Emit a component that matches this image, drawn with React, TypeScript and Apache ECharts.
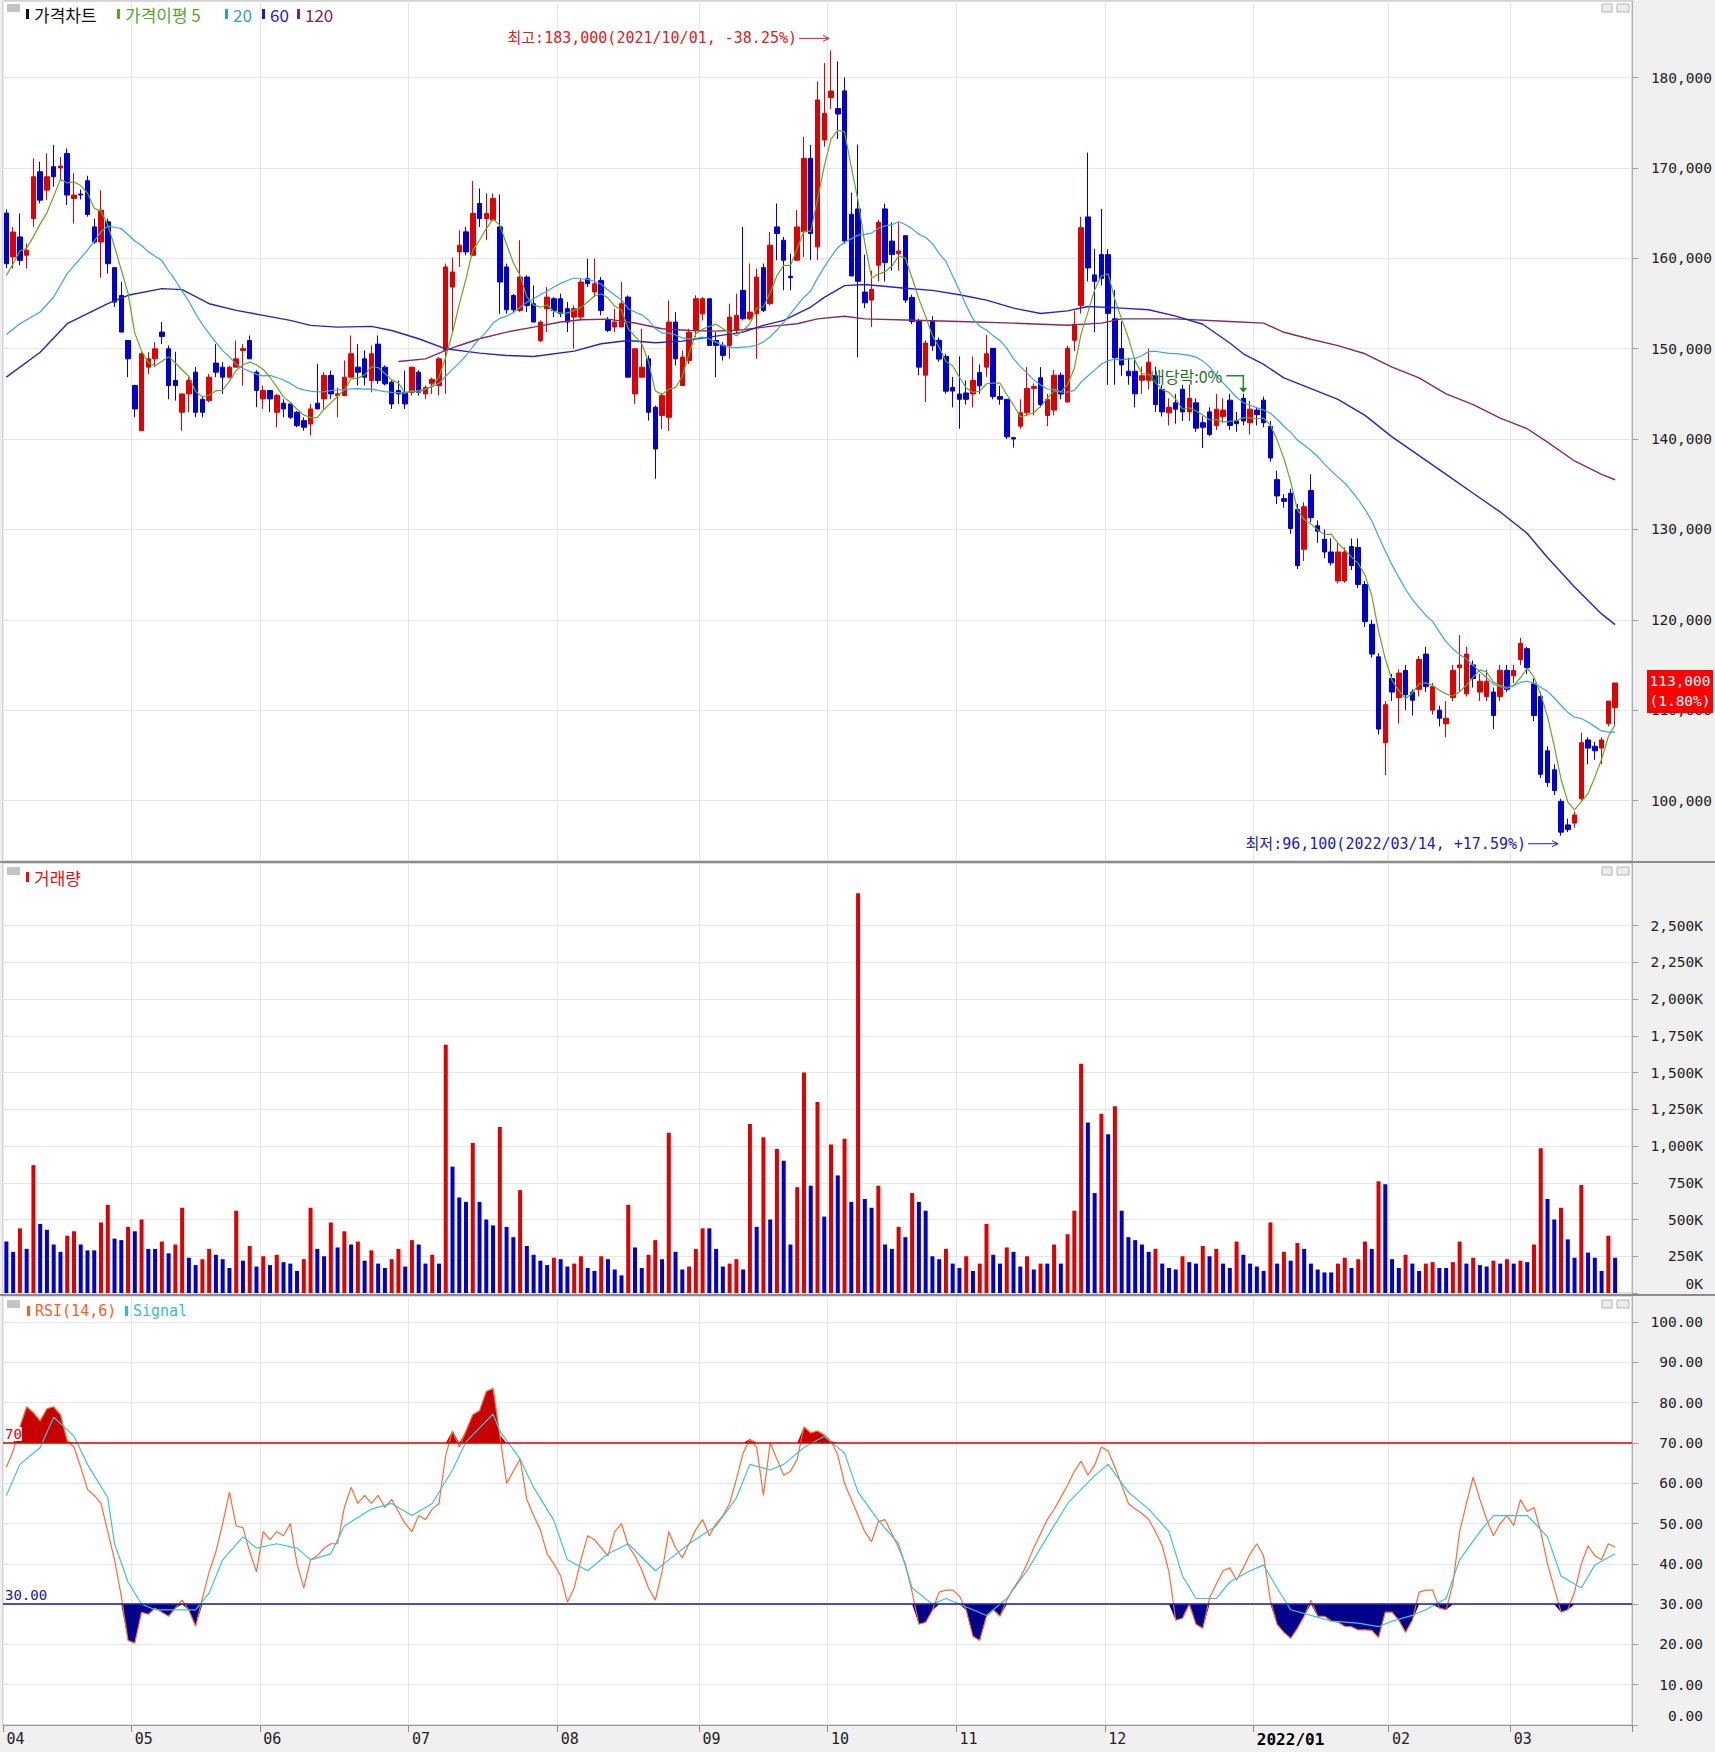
import React, { useEffect, useRef } from 'react';
import * as echarts from 'echarts';

// ---------- categories ----------
const monthLabels = ['04', '05', '06', '07', '08', '09', '10', '11', '12', '2022/01', '02', '03'];
const monthBarCounts = [19, 19, 22, 22, 21, 19, 19, 22, 22, 20, 18, 16];

// ---------- OHLC ----------
const open = [
  165000,160150,162360,160330,164400,169570,167540,170130,170000,171600,166620,167100,168580,163470,161800,164030,158960,155880,150900,
  145920,140920,147950,148870,151830,149980,146480,142960,144990,147400,144400,144250,148400,147950,146840,147950,149800,150900,147400,
  144440,145360,142960,143960,143880,142960,142030,141660,143960,144440,147030,144800,144810,146840,147950,148870,146470,150500,147950,146290,145360,145170,
  145170,147400,145000,146100,145920,149800,156810,160700,162920,160330,166060,164400,164220,163470,159040,155880,154230,157920,154970,150900,154420,155520,
  155520,154420,153490,153490,157740,156270,157550,153120,152390,152390,155700,144990,146840,148870,143520,142600,142400,152940,145920,148700,152020,
  153860,155520,150900,150350,150350,152020,156450,153300,153860,158960,154970,163470,161990,158000,159780,162920,171050,161260,173090,
  177800,176560,178520,164870,165460,156260,155370,159230,165460,161900,160500,162500,155670,153000,147060,153000,150920,149140,145700,
  144980,145100,144980,147360,147950,150030,144690,144390,140150,141420,142900,145600,146770,142610,143200,147060,144090,150920,154780,164570,158160,160410,
  160400,153300,150000,147500,147500,146500,146500,147000,145500,142900,144000,145500,143000,144000,141800,143000,141500,142500,144300,142000,144500,141800,
  143200,144300,141400,135500,133400,134000,132200,127800,134300,130400,128900,127500,124300,124300,128100,128000,123900,119500,115900,106400,
  113500,111400,114400,112000,112300,116200,110000,110000,108500,111400,114700,111800,115000,112000,111500,112000,111500,114400,
  113800,115600,116800,112900,111500,105500,103400,99900,97300,97500,100200,106700,106000,105800,108500,110300,
];
const high = [
  165400,163450,164950,161630,171050,170680,171600,172530,171200,172160,169400,167600,169130,164400,167540,164400,159000,157370,150950,
  146000,149600,149600,150700,152940,150350,149650,145000,146840,147950,144750,147200,150500,148500,148100,150900,150500,151450,147600,
  145920,145400,145000,144400,143900,143100,142400,143880,148320,147400,147580,145700,148700,151450,150500,149800,150350,151450,148150,146470,146470,147580,
  147950,147600,145920,146800,149060,159410,160100,163100,163470,168540,167730,167170,167170,167060,159410,156060,162000,158110,156990,153120,156810,155700,
  156080,155150,154780,157740,159960,159960,157920,153490,154420,157370,155880,149980,152200,149250,143700,145100,155330,154040,149800,152200,155900,
  155700,155520,151830,150720,154970,156080,163470,159410,158850,159410,162920,166060,162360,160500,165320,173450,172530,179560,181590,
  183000,181780,180000,167250,172580,160410,158630,164270,166050,163980,163980,162500,155960,153300,150920,153590,151210,149440,146880,
  149140,146470,149140,148250,151510,150030,145880,144390,140240,144390,147950,146170,147950,144980,147650,147360,150330,154190,164570,171690,161000,165460,
  161000,156500,153000,149000,149000,148000,150000,148000,146000,144500,145000,146000,146000,144500,142500,143500,145000,144500,145000,143000,145000,144200,
  143500,144700,142000,136500,133900,134500,132800,133000,136100,131000,130000,129000,128500,128000,129000,129000,124300,120000,116300,111000,
  114000,114500,115000,112300,116000,117000,113000,110500,111000,115000,118300,117000,115500,114000,114500,112500,115000,115000,
  115000,118000,117000,113500,112000,106000,104000,100200,98000,98800,107500,107000,106500,107000,111000,113000,
];
const low = [
  158900,158850,159200,158850,163470,166060,166430,167910,168650,165880,163840,166500,164600,161600,157850,158300,154600,151800,146840,
  142400,140920,147200,147950,150500,144400,144250,140920,142960,142400,142400,144070,146840,144990,146700,147950,145900,148870,143520,
  143330,142960,141300,142400,142200,141300,140920,140370,143300,143330,144440,142400,144800,146840,145920,145920,145170,146100,145920,143330,143880,143330,
  144800,144800,144440,144990,144800,144990,151830,159040,160330,160220,163470,162000,164220,153860,153860,154040,154040,154040,152940,150700,151830,153490,
  153490,151830,150000,153120,156810,155700,153680,151830,151830,152390,146840,143880,146840,142030,135600,141100,140900,148130,145920,148300,151270,
  153120,150350,146840,148680,148870,151650,153120,153120,148870,154040,154780,159780,156450,156450,159780,160150,159780,159780,172350,
  176500,173180,161600,158040,149020,154480,152400,157450,157450,158630,158630,155070,152700,147060,144090,149740,148540,145000,143500,
  141130,143800,143500,145000,146880,144390,143800,140000,139050,141130,142610,142610,143500,141420,142610,144390,144090,149740,153880,157450,151810,157000,
  146000,146000,147000,146000,143500,145000,145500,143000,142500,141500,141700,142000,142000,140800,139000,140300,141000,141800,141000,140800,141500,140500,
  141500,141300,137500,132800,132400,129500,125600,126500,130800,128500,126800,126000,124000,124100,125500,123500,119200,115800,107300,102800,
  111000,108500,110000,109400,111500,112000,109500,108200,107000,111000,112000,111500,112500,111000,111000,107900,111000,112000,
  113000,115000,114000,108800,102500,101500,100600,96100,96500,97000,100000,104000,104500,104000,108200,108200,
];
const close = [
  159400,162900,159770,160890,169020,166430,169020,169020,170200,166990,167000,167000,164840,161800,165320,159400,155150,151830,148870,
  143330,149430,148870,149980,151350,145920,145920,144990,146470,142960,142960,146840,147400,146840,147950,148870,150000,148870,145360,
  145360,144440,144810,143330,142400,141480,141300,143330,143330,147030,144990,145000,146840,149430,147400,146840,149430,146470,146100,143880,144990,143880,
  147950,145170,145700,146600,148870,159040,158480,161440,160700,164950,164400,164950,166620,157370,154300,154300,157920,154780,152940,152940,155700,154230,
  153860,152940,154420,157370,157180,157180,154230,152020,152940,154970,146840,149980,147950,142960,138900,144800,152940,148870,149060,151800,155520,
  155520,150350,150350,149250,153490,153680,153300,154040,157920,154230,161440,162740,159780,157850,163470,171050,162740,177520,176040,
  178500,175960,161900,158040,157450,155070,156560,163980,159520,160410,160800,155370,153000,147950,150620,150330,148840,145290,145300,
  144390,144390,146470,145880,149440,144690,144400,140240,140000,142900,145580,145800,143800,144390,147060,144980,150030,152700,163380,158930,157450,157750,
  153900,149000,148200,147000,145000,147000,148500,143800,143000,143500,143300,143000,144500,141200,141300,140500,143300,143200,141500,141700,142000,143300,
  142700,141800,137900,133700,133100,130100,126000,132500,131300,129800,127500,126300,127500,127500,126000,123900,119800,116200,107900,110600,
  112000,114100,111700,111100,115600,112600,112600,109100,109100,114400,115000,116200,113500,113200,113200,109400,114400,112300,
  114400,117400,114700,109400,102900,102000,101100,96500,96800,98400,106400,105800,105500,106700,111000,113000,
];

// ---------- moving averages ----------
const ma5Head = [158100, 159400, 160800, 161100];
const ma20HeadIdx = [0, 2, 5, 7, 9, 12, 14, 15, 17];
const ma20HeadVal = [151570, 152750, 154050, 155710, 158300, 160890, 162920, 163550, 163290];
const ma60Idx = [0,5,9,15,18,23,26,30,34,38,42,45,49,54,57,61,65,70,74,78,84,88,92,96,100,104,109,112,115,119,121,124,127,133,137,141,145,149,153,157,160,165,169,173,177,181,183,186,189,193,197,201,203,205,209,213,217,221,225,228,232,236,238];
const ma60Val = [146840,149600,152760,154970,155900,156640,156530,154970,154230,153680,153120,152570,152380,152460,152010,151090,149980,149500,149240,149130,149720,150540,150900,150650,150830,151270,151830,152570,153120,154600,155670,156970,157090,156680,156440,155960,155370,154480,153890,154180,154660,154480,154300,153590,152700,150620,149430,148250,146760,145580,144390,142610,141420,140240,138160,136080,134000,131930,129550,126880,123620,120650,119460];
const ma120Idx = [58,62,65,67,70,74,78,82,85,89,93,97,101,105,109,113,117,120,124,127,133,141,149,157,162,165,173,181,186,189,193,197,201,205,209,213,217,221,225,228,232,236,238];
const ma120Val = [148580,148870,149800,150350,151090,151830,152380,152940,153200,153270,152830,152200,152010,151940,152090,152460,152750,153290,153590,153290,153170,153000,152820,152580,152820,153290,153290,153000,152820,151810,151040,150330,149430,147950,146770,144990,143800,142320,141130,139650,137570,136080,135490];

// ---------- volume (thousands of shares) ----------
const volumeK = [
  350,280,440,300,870,470,430,330,280,390,420,330,290,290,480,600,370,360,450,
  420,500,300,300,350,270,330,580,240,190,230,300,260,230,170,560,220,320,180,
  250,190,260,210,200,150,230,580,300,250,480,310,420,330,350,220,290,200,170,230,300,180,
  360,330,200,260,200,1690,860,650,620,1020,620,500,460,1130,450,380,700,320,260,220,190,240,
  230,180,200,250,170,150,250,230,160,120,600,310,170,260,360,230,1090,280,160,180,300,
  440,440,300,180,200,230,160,1150,450,1060,500,980,900,330,720,1500,730,1300,520,
  1010,800,1050,620,2720,640,580,730,330,300,450,380,680,620,560,250,230,300,200,
  170,250,150,200,470,260,200,310,280,180,250,160,200,200,330,200,400,560,1560,1160,680,1220,
  1080,1270,560,380,360,330,280,300,200,170,160,250,210,200,320,250,300,200,170,350,260,200,
  180,150,480,200,280,220,340,300,200,160,140,140,200,240,170,230,350,300,760,740,
  230,170,260,200,150,200,210,170,170,210,350,200,240,190,180,220,200,230,
  200,220,210,330,985,640,500,580,365,240,735,275,240,150,390,240,
];

// ---------- RSI(14,6) ----------
const rsi = [
  64,68,74,79,77.5,75.5,78.5,79,77,70.5,69,64,58.5,57,55,48,41,32,21,
  20.3,28,27.5,29,28,27,29,31,28.5,24.5,31.5,38,43,50,57.8,49.4,49,43,38,
  48,46,48,47,50,40,34,41,42,43.9,45,45,54,59,55,57,55,57,54,56,53,50,
  48,52,51,53.6,55,67,73,69,73,77,78,82.8,83.6,72,60,63,66,56,52,48.5,42.5,40,
  37,30.5,34,41,47,46,44,42,48,50,44.5,42,38.5,34,31,38,48,44,41.5,45,48.5,
  51,47,50,52,55,61,67.5,71,69,57,70,66,62,63,66,74,72.5,73,72,
  70.5,67,60,56,52,48,45.5,50.5,51,47.5,44,40,33,25,25.5,28.5,33,33.5,33.5,
  32,28.5,22,21,27,28.6,27,31,34,36.5,40,44,47.5,51,53.5,56.5,59.5,63,65.5,62,64.5,69,
  68,64,59.5,55,53.6,52.5,51,48,44.5,38,26,26.5,30,25,24,31.5,35,38.3,39,36,39,42.5,
  45,42,31,25,23,21.5,24,27,31,27,27,25.8,25.5,24.5,24.4,23.6,23.6,23.5,21.7,28,
  28,26,23,26,33,33.5,33.5,29,28.6,35,48,55,61.5,56,51,47,50,52,
  49.5,56,53,54,48,40,34,28,28.6,33,40,44.5,42,41,45,44.2,
];
const signalIdx = [0,2,5,7,10,12,15,16,18,20,22,25,28,30,32,35,37,40,43,45,48,50,54,57,60,63,66,68,72,73,76,78,81,83,86,89,92,96,98,101,105,108,110,113,115,118,121,124,126,129,132,134,137,139,143,145,148,151,154,157,161,163,166,169,172,174,176,179,181,184,186,188,190,193,196,200,203,205,208,210,213,215,218,220,223,225,228,230,233,235,238];
const signalVal = [57,64.7,68.9,76.4,71.7,64.7,56.4,45,35.5,30,28.6,28.6,28.6,32.8,41,46.7,43.9,45,43.9,41,42.5,49.4,53.6,55,52,55,63.3,70.3,77.2,73,66,59,50.8,41,38.3,42.5,45,38.3,41,45,49.4,56.4,64.7,63.3,64.7,68.9,71.7,67.5,57.8,50.8,45,34,30,31.4,28.6,27.2,31.4,38.3,46.7,55,61.9,64.7,57.8,53.6,48,37,31.4,31.4,35.5,38.3,39.7,34,28.6,27.2,25.8,25.3,24.4,25.8,27.2,28.6,31.4,41,48,52,52,52,46.7,37,34,39.7,42.5];

// ---------- axis ticks ----------
const priceTicks = [100000,110000,120000,130000,140000,150000,160000,170000,180000];
const volumeTicks = [0,250,500,750,1000,1250,1500,1750,2000,2250,2500];
const rsiTicks = [0,10,20,30,40,50,60,70,80,90,100];

const MONO = "'DejaVu Sans Mono', 'Noto Sans CJK KR', monospace";
const KR = "'Noto Sans CJK KR', 'Noto Sans', sans-serif";
const UP = '#e00000';
const DOWN = '#0000d0';

export default function App() {
  const ref = useRef<HTMLDivElement>(null);

  useEffect(() => {
    if (!ref.current) return;
    const chart = echarts.init(ref.current, null, { renderer: 'svg' });
    const N = close.length;

    const categories: string[] = [];
    const monthStarts = new Set<number>();
    monthLabels.forEach((m, mi) => {
      monthStarts.add(categories.length);
      for (let k = 0; k < monthBarCounts[mi]; k++) categories.push(m + '#' + k);
    });
    categories.push('pad#0', 'pad#1');
    const isStart = (i: number) => monthStarts.has(i);

    const candle = close.map((c, i) => [open[i], c, low[i], high[i]]);
    const ma5 = close.map((_, i) => {
      if (i < 4) return ma5Head[i];
      let s = 0;
      for (let k = i - 4; k <= i; k++) s += close[k];
      return Math.round(s / 5);
    });
    const ma20: any[] = ma20HeadIdx.map((ix, k) => [ix, ma20HeadVal[k]]);
    for (let i = 19; i < N; i++) {
      let s = 0;
      for (let k = i - 19; k <= i; k++) s += close[k];
      ma20.push([i, Math.round(s / 20)]);
    }
    const ma60 = ma60Idx.map((ix, k) => [ix, ma60Val[k]]);
    const ma120 = ma120Idx.map((ix, k) => [ix, ma120Val[k]]);
    // volume bars: red when volume rose versus the previous day, blue when it fell
    const vol = volumeK.map((v, i) => ({ value: v, itemStyle: { color: i > 0 && v > volumeK[i - 1] ? UP : DOWN } }));
    const hiBase = rsi.map(() => 70);
    const hiFill = rsi.map((r) => Math.max(r - 70, 0));
    const loBase = rsi.map((r) => Math.min(r, 30));
    const loFill = rsi.map((r) => 30 - Math.min(r, 30));
    const signal = signalIdx.map((ix, k) => [ix, signalVal[k]]);

    const grids = [
      { left: 3, top: 1, width: 1629, height: 860 },
      { left: 3, top: 863, width: 1629, height: 430 },
      { left: 3, top: 1296, width: 1629, height: 429 },
    ].map((g) => ({ ...g, show: true, backgroundColor: '#ffffff', borderColor: '#b8b8b8', borderWidth: 1 }));

    const xAxis = [0, 1, 2].map((gi) => ({
      type: 'category',
      gridIndex: gi,
      data: categories,
      boundaryGap: true,
      axisLine: { show: gi === 2, lineStyle: { color: '#9a9a9a' } },
      axisTick: { show: gi === 2, interval: isStart, length: 7, lineStyle: { color: '#8a8a8a' } },
      axisLabel: {
        show: gi === 2,
        interval: isStart,
        formatter: (v: string) => {
          const m = v.split('#')[0];
          return m === '2022/01' ? '{b|' + m + '}' : m;
        },
        align: 'left',
        margin: 6,
        color: '#222',
        fontFamily: MONO,
        fontSize: 15,
        rich: { b: { fontFamily: MONO, fontSize: 16, fontWeight: 'bold', color: '#000' } },
      },
      splitLine: { show: true, interval: isStart, lineStyle: { color: '#e6e6e6', width: 1 } },
    }));

    const labelBase = { fontFamily: MONO, fontSize: 14.5, color: '#222', align: 'right' };
    const yAxis = [
      {
        type: 'value', gridIndex: 0, position: 'right', min: 93306, max: 188465, splitNumber: 10, scale: true,
        axisLine: { show: true, lineStyle: { color: '#b0b0b0' } },
        axisTick: { show: true, customValues: priceTicks, length: 6, lineStyle: { color: '#a0a0a0' } },
        axisLabel: {
          ...labelBase, margin: 80, customValues: priceTicks,
          formatter: (v: number) => (v % 10000 === 0 && v >= 100000 && v <= 180000 ? v.toLocaleString('en-US') : ''),
        },
        splitLine: { show: true, lineStyle: { color: '#e6e6e6' } },
      },
      {
        type: 'value', gridIndex: 1, position: 'right', min: 0, max: 2926, interval: 250,
        axisLine: { show: true, lineStyle: { color: '#b0b0b0' } },
        axisTick: { show: true, customValues: volumeTicks, length: 6, lineStyle: { color: '#a0a0a0' } },
        axisLabel: {
          ...labelBase, margin: 71, customValues: volumeTicks,
          formatter: (v: number) => (v > 2500 ? '' : v === 0 ? '{z|0K}' : v.toLocaleString('en-US') + 'K'),
          rich: { z: { fontFamily: MONO, fontSize: 14.5, color: '#222', padding: [0, 0, 18, 0] } },
        },
        splitLine: { show: true, lineStyle: { color: '#e6e6e6' } },
      },
      {
        type: 'value', gridIndex: 2, position: 'right', min: 0, max: 106.5, interval: 10,
        axisLine: { show: true, lineStyle: { color: '#b0b0b0' } },
        axisTick: { show: true, customValues: rsiTicks, length: 6, lineStyle: { color: '#a0a0a0' } },
        axisLabel: {
          ...labelBase, margin: 71, customValues: rsiTicks,
          formatter: (v: number) => (v > 100 ? '' : v === 0 ? '{z|0.00}' : v.toFixed(2)),
          rich: { z: { fontFamily: MONO, fontSize: 14.5, color: '#222', padding: [0, 0, 18, 0] } },
        },
        splitLine: { show: true, lineStyle: { color: '#e6e6e6' } },
      },
    ];

    const line = (name: string, data: any[], color: string, width: number, xi: number, z = 3) => ({
      name, type: 'line', xAxisIndex: xi, yAxisIndex: xi, data, symbol: 'none', connectNulls: true,
      lineStyle: { color, width }, itemStyle: { color }, z, silent: true,
    });

    const series: any[] = [
      {
        name: '가격차트', type: 'candlestick', xAxisIndex: 0, yAxisIndex: 0, data: candle, barWidth: 5,
        itemStyle: { color: UP, color0: DOWN, borderColor: UP, borderColor0: DOWN, borderWidth: 1 }, z: 2,
      },
      line('MA120', ma120, '#8a2a58', 1.4, 0),
      line('MA60', ma60, '#2424cc', 1.4, 0),
      line('MA20', ma20, '#3ea3e6', 1.2, 0),
      line('MA5', ma5, '#62aa22', 1.2, 0),
      { name: '거래량', type: 'bar', xAxisIndex: 1, yAxisIndex: 1, data: vol, barWidth: 4 },
      { type: 'line', xAxisIndex: 2, yAxisIndex: 2, data: hiBase, stack: 'hi', symbol: 'none', lineStyle: { width: 0, opacity: 0 }, silent: true },
      { type: 'line', xAxisIndex: 2, yAxisIndex: 2, data: hiFill, stack: 'hi', symbol: 'none', lineStyle: { width: 0, opacity: 0 }, areaStyle: { color: '#c80000', opacity: 1 }, silent: true },
      { type: 'line', xAxisIndex: 2, yAxisIndex: 2, data: loBase, stack: 'lo', symbol: 'none', lineStyle: { width: 0, opacity: 0 }, silent: true },
      { type: 'line', xAxisIndex: 2, yAxisIndex: 2, data: loFill, stack: 'lo', symbol: 'none', lineStyle: { width: 0, opacity: 0 }, areaStyle: { color: '#00008c', opacity: 1 }, silent: true },
      {
        ...line('RSI', rsi, '#ff6a35', 1.2, 2, 4),
        markLine: {
          silent: true, symbol: 'none', animation: false, label: { show: false },
          data: [
            { yAxis: 70, lineStyle: { color: '#e00000', width: 1.5, type: 'solid' } },
            { yAxis: 30, lineStyle: { color: '#1818a0', width: 1.5, type: 'solid' } },
          ],
        },
      },
      line('Signal', signal, '#3cc3d6', 1.2, 2, 4),
    ];

    chart.setOption({
      animation: false,
      backgroundColor: '#f0f0f0',
      grid: grids,
      xAxis,
      yAxis,
      series,
    });

    // ---------- annotations & decorations ----------
    const g: any[] = [];
    const panelTops = [0, 863, 1296];
    panelTops.forEach((t) => {
      g.push({ type: 'rect', shape: { x: 7, y: t + 4, width: 13, height: 8 }, style: { fill: '#c4c4c4' }, z: 50 });
      g.push({ type: 'rect', shape: { x: 1602, y: t + 4, width: 10, height: 8 }, style: { fill: '#ececec', stroke: '#b4b4b4', lineWidth: 1 }, z: 50 });
      g.push({ type: 'rect', shape: { x: 1617, y: t + 4, width: 12, height: 8 }, style: { fill: '#ececec', stroke: '#b4b4b4', lineWidth: 1 }, z: 50 });
    });
    g.push({ type: 'line', shape: { x1: 0, y1: 862, x2: 1715, y2: 862 }, style: { stroke: '#8c8c8c', lineWidth: 2 }, z: 50 });
    g.push({ type: 'line', shape: { x1: 0, y1: 1295, x2: 1715, y2: 1295 }, style: { stroke: '#8c8c8c', lineWidth: 2 }, z: 50 });

    const legend = (x: number, y: number, text: string, color: string, font: string, size: number) => {
      g.push({ type: 'rect', shape: { x, y: y - 5, width: 3, height: 10 }, style: { fill: color }, z: 60 });
      g.push({ type: 'text', x: x + 8, y, style: { text, fill: color, fontFamily: font, fontSize: size, verticalAlign: 'middle', align: 'left' }, z: 60 });
    };
    legend(26, 14, '가격차트', '#111111', KR, 17);
    legend(117, 14, '가격이평 5', '#5aa51f', KR, 17);
    legend(225, 14, '20', '#2f9be3', KR, 17);
    legend(262, 14, '60', '#1a1ad0', KR, 17);
    legend(297, 14, '120', '#8a2252', KR, 17);
    legend(26, 877, '거래량', '#e01010', KR, 17);
    legend(27, 1311, 'RSI(14,6)', '#ff5a2a', MONO, 15);
    legend(125, 1311, 'Signal', '#2fbfd3', MONO, 15);

    const px = (i: number, v: number) => chart.convertToPixel({ gridIndex: 0 } as any, [i, v]) as number[];
    const pr = (i: number, v: number) => chart.convertToPixel({ gridIndex: 2 } as any, [i, v]) as number[];

    // reference-line labels in the RSI panel
    const [, y70] = pr(0, 70);
    const [, y30] = pr(0, 30);
    g.push({ type: 'text', x: 5, y: y70 - 2, style: { text: '70', fill: '#e00000', fontFamily: MONO, fontSize: 14, align: 'left', verticalAlign: 'bottom', backgroundColor: '#ffffff' }, z: 80 });
    g.push({ type: 'text', x: 5, y: y30 - 2, style: { text: '30.00', fill: '#1818a0', fontFamily: MONO, fontSize: 14, align: 'left', verticalAlign: 'bottom' }, z: 80 });

    // highest
    const [hx, hy] = px(122, 183000);
    const hay = hy - 12;
    g.push({ type: 'line', shape: { x1: hx - 32, y1: hay, x2: hx - 2, y2: hay }, style: { stroke: '#e02020', lineWidth: 1 }, z: 60 });
    g.push({ type: 'polyline', shape: { points: [[hx - 8, hay - 3], [hx - 2, hay], [hx - 8, hay + 3]] }, style: { stroke: '#e02020', fill: null, lineWidth: 1 }, z: 60 });
    g.push({ type: 'text', x: hx - 34, y: hay, style: { text: '최고:183,000(2021/10/01, -38.25%)', fill: '#e02020', fontFamily: MONO, fontSize: 15, align: 'right', verticalAlign: 'middle' }, z: 60 });

    // lowest
    const [lx, ly] = px(230, 96100);
    const lay = ly + 8;
    g.push({ type: 'line', shape: { x1: lx - 33, y1: lay, x2: lx - 3, y2: lay }, style: { stroke: '#2020c0', lineWidth: 1 }, z: 60 });
    g.push({ type: 'polyline', shape: { points: [[lx - 9, lay - 3], [lx - 3, lay], [lx - 9, lay + 3]] }, style: { stroke: '#2020c0', fill: null, lineWidth: 1 }, z: 60 });
    g.push({ type: 'text', x: lx - 35, y: lay, style: { text: '최저:96,100(2022/03/14, +17.59%)', fill: '#2020c0', fontFamily: MONO, fontSize: 15, align: 'right', verticalAlign: 'middle' }, z: 60 });

    // ex-dividend marker
    const [dx, dy] = px(183, high[183]);
    const day = dy - 18;
    g.push({ type: 'polyline', shape: { points: [[dx - 17, day], [dx, day], [dx, dy - 5]] }, style: { stroke: '#1f8a1f', fill: null, lineWidth: 1.5 }, z: 60 });
    g.push({ type: 'polygon', shape: { points: [[dx - 4, dy - 6], [dx + 4, dy - 6], [dx, dy - 1]] }, style: { fill: '#1f8a1f' }, z: 60 });
    g.push({ type: 'text', x: dx - 21, y: day, style: { text: '배당락:0%', fill: '#1f6f1f', fontFamily: "'Noto Sans CJK KR', 'DejaVu Sans Mono'", fontSize: 16, align: 'right', verticalAlign: 'middle' }, z: 60 });

    // current price box
    const [, cy] = px(238, close[N - 1]);
    g.push({ type: 'rect', shape: { x: 1647, y: cy - 13, width: 66, height: 43 }, style: { fill: '#ff0000' }, z: 70 });
    g.push({ type: 'text', x: 1680, y: cy - 2, style: { text: close[N - 1].toLocaleString('en-US'), fill: '#ffffff', fontFamily: MONO, fontSize: 14.5, align: 'center', verticalAlign: 'middle' }, z: 71 });
    g.push({ type: 'text', x: 1680, y: cy + 18, style: { text: '(1.80%)', fill: '#ffffff', fontFamily: MONO, fontSize: 14.5, align: 'center', verticalAlign: 'middle' }, z: 71 });

    chart.setOption({ graphic: g });

    return () => chart.dispose();
  }, []);

  return <div ref={ref} style={{ position: 'absolute', left: 0, top: 0, width: 1715, height: 1752 }} />;
}
